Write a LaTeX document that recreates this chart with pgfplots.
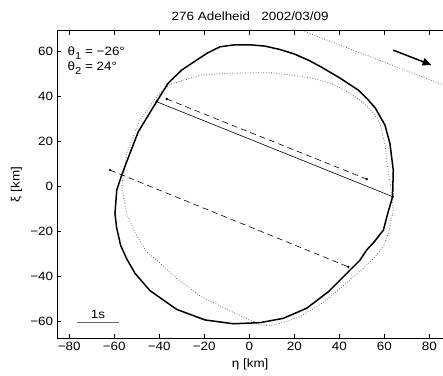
\documentclass[border=0pt]{standalone}
\usepackage{fontspec}
\setmainfont[FakeStretch=1.12]{Liberation Sans}
\usepackage{pgfplots}
\pgfplotsset{compat=1.18}
\usetikzlibrary{arrows.meta}
\begin{document}
\fontsize{12}{14}\selectfont
\begin{tikzpicture}
\begin{axis}[
 x=2.25pt, y=2.25pt,
 xmin=-85.3, xmax=86.1, ymin=-67.4, ymax=69.3,
 axis x line*=box, axis y line*=left,
 axis line style={-, line width=0.8pt},
 tick align=inside, major tick length=4pt,
 tick style={black, line width=0.5pt},
 xtick={-80,-60,-40,-20,0,20,40,60,80},
 xticklabels={−80,−60,−40,−20,0,20,40,60,80},
 ytick={-60,-40,-20,0,20,40,60},
 yticklabels={−60,−40,−20,0,20,40,60},
 tick label style={font=\fontsize{12}{14}\selectfont},
 label style={font=\fontsize{12}{14}\selectfont},
 title style={font=\fontsize{12}{14}\selectfont},
 xlabel={η [km]}, ylabel={ξ [km]},
 title={276 Adelheid\ \ \ 2002/03/09},
]
% dotted outline
\addplot[black!62, line width=0.8pt, dash pattern=on 0.7pt off 1.9pt] coordinates {
(2,-60) (-10,-54.5) (-21.9,-48.5) (-32,-41) (-41.2,-32.6) (-45.6,-28.9) (-50.5,-21) (-54.5,-11.8)
(-56.7,0) (-54.5,14.8) (-48.6,29.6) (-41.2,40) (-35.3,45.5) (-21.9,49.6) (-10,50.4) (0.3,50.6)
(9.2,50.7) (20,49.5) (30,47.8) (37.3,45.5) (44,42) (50,38) (55,33) (58.1,28.2) (60.5,18) (61,11.9)
(63.3,-3) (64,-10.4) (62,-20) (59.6,-26.7) (56,-31) (51,-36) (46.2,-40) (40,-45.5) (34.4,-50.4)
(28,-54.5) (22.5,-57.8) (16,-60) (10.7,-61.5) (5,-61.5) (2,-60)
};
% solid outline
\addplot[black, line width=1.5pt] coordinates {
(-59.7,-11.8) (-58.9,-1.5) (-56.7,5.2) (-53,15) (-49.3,24.5) (-41.2,37.8) (-36,46.1) (-30,51.9)
(-23.4,56.3) (-18.5,59.5) (-13,62.2) (-7.1,63) (0.3,63.1) (7,62.5) (13.6,61) (20,59) (26.2,56.3)
(32,53.2) (40,48.5) (48.4,43) (52.5,39) (56,35) (60.3,27.4) (62.5,19.3) (64,7.4) (63.7,-4.4)
(61.5,-12) (59.6,-19.3) (55.5,-24.5) (52.2,-28.1) (49.2,-32.6) (43.3,-38.5) (35.1,-46.7)
(25.5,-54) (15.1,-58.5) (4.8,-60.4) (-7.1,-60.9) (-19.7,-59.2) (-32.3,-54.5) (-44.1,-46.2)
(-50.8,-38.5) (-54.5,-32) (-57.2,-26) (-59,-18) (-59.7,-11.8)
};
% chords
\addplot[black, line width=0.6pt, mark=*, mark size=0.9pt] coordinates {(-41.2,37.8) (63.7,-4.4)};
\addplot[black, line width=0.6pt, dash pattern=on 6pt off 4pt, mark=*, mark size=0.9pt, mark options={solid}] coordinates {(-36.7,39) (52.2,3.4)};
\addplot[black, line width=0.6pt, dash pattern=on 6pt off 4pt, mark=*, mark size=0.9pt, mark options={solid}] coordinates {(-61.9,7.4) (44,-35.6)};
% dotted diagonal (clipped)
\addplot[black!62, line width=0.8pt, dash pattern=on 0.7pt off 1.9pt] coordinates {(15,72.7) (95,41.9)};
% arrow
\addplot[black, line width=1.5pt, -{Triangle[length=9pt,width=7.5pt]}] coordinates {(64,60.7) (81,54.1)};
% scale bar
\addplot[black!60, line width=0.9pt] coordinates {(-76.6,-60.4) (-57.8,-60.4)};
\node at (axis cs:-67.2,-56.7) {1s};
\node[anchor=west, inner sep=0pt] at (axis cs:-80.8,59.4) {θ\raisebox{-0.6ex}{\fontsize{10}{11}\selectfont 1} = −26°};
\node[anchor=west, inner sep=0pt] at (axis cs:-80.8,52.7) {θ\raisebox{-0.6ex}{\fontsize{10}{11}\selectfont 2} = 24°};
\coordinate (bbsw) at (axis cs:-110.8,-84.1);
\coordinate (bbne) at (axis cs:86.1,83.0);
\end{axis}
\pgfresetboundingbox
\path[use as bounding box] (bbsw) rectangle (bbne);
\end{tikzpicture}
\end{document}
